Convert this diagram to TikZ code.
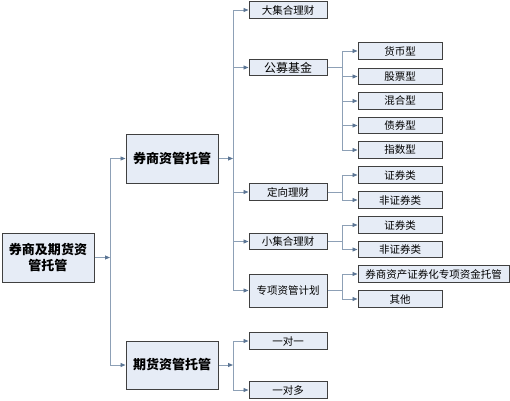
\documentclass[tikz,border=0pt]{standalone}
\usepackage{fontspec}
\setmainfont{Noto Sans CJK SC}
\usetikzlibrary{arrows.meta}
\definecolor{boxfill}{HTML}{E6ECF6}
\definecolor{boxline}{HTML}{404040}
\definecolor{conncol}{HTML}{8DA0B6}
\definecolor{tipcol}{HTML}{5B7594}
\tikzset{
  box/.style={draw=boxline, fill=boxfill, line width=1pt, inner sep=0pt, align=center},
  bigbox/.style={box, minimum width=92pt, minimum height=49pt, font=\fontsize{13}{16}\selectfont\bfseries},
  midbox/.style={box, minimum width=78pt, minimum height=16.5pt, font=\fontsize{10.5}{12}\selectfont},
  leafbox/.style={box, minimum width=84pt, minimum height=16.5pt, font=\fontsize{10.5}{12}\selectfont},
  conn/.style={draw=conncol, line width=0.9pt},
  arr/.style={conn, -{Triangle[length=5pt,width=4pt,color=tipcol]}},
}
\begin{document}
\begin{tikzpicture}[x=1pt,y=-1pt]
\useasboundingbox (0,0) rectangle (510,400);
% level 0 and 1
\node[bigbox] (root) at (48,257.5) {券商及期货资\\管托管};
\node[bigbox] (qs) at (172,158.5) {券商资管托管};
\node[bigbox, minimum height=48pt] (qh) at (172,365) {期货资管托管};
% level 2
\node[midbox] (djh) at (288,10) {大集合理财};
\node[midbox, font=\fontsize{12}{14}\selectfont] (gm) at (288,67.5) {公募基金};
\node[midbox] (dx) at (288,192) {定向理财};
\node[midbox] (xjh) at (288,241.5) {小集合理财};
\node[midbox, minimum height=33pt] (zx) at (288,290.5) {专项资管计划};
\node[midbox] (ydy) at (288,341) {一对一};
\node[midbox] (ydd) at (288,390) {一对多};
% level 3
\node[leafbox] (hb) at (400,51) {货币型};
\node[leafbox] (gp) at (400,76.5) {股票型};
\node[leafbox] (hh) at (400,101) {混合型};
\node[leafbox] (zq) at (400,125.5) {债券型};
\node[leafbox] (zs) at (400,150) {指数型};
\node[leafbox] (dxz) at (400,175) {证券类};
\node[leafbox] (dxf) at (400,200) {非证券类};
\node[leafbox] (xjz) at (400,225) {证券类};
\node[leafbox] (xjf) at (400,249.5) {非证券类};
\node[leafbox, minimum width=151pt] (zxt) at (433.5,274) {券商资产证券化专项资金托管};
\node[leafbox] (qt) at (400,299) {其他};
% junctions
\coordinate (j0) at (110,257.5);
\coordinate (j1) at (233,158.5);
\coordinate (j2) at (233,365);
\coordinate (j3) at (342,67.5);
\coordinate (j4) at (342,192);
\coordinate (j5) at (342,241.5);
\coordinate (j6) at (342,290.5);
% connectors
\draw[arr] (root.east) -- (j0);
\draw[arr] (j0) |- (qs.west);
\draw[arr] (j0) |- (qh.west);
\draw[arr] (qs.east) -- (j1);
\foreach \n in {djh,gm,dx,xjh,zx} \draw[arr] (j1) |- (\n.west);
\draw[arr] (qh.east) -- (j2);
\foreach \n in {ydy,ydd} \draw[arr] (j2) |- (\n.west);
\draw[conn] (gm.east) -- (j3);
\foreach \n in {hb,gp,hh,zq,zs} \draw[arr] (j3) |- (\n.west);
\draw[conn] (dx.east) -- (j4);
\foreach \n in {dxz,dxf} \draw[arr] (j4) |- (\n.west);
\draw[conn] (xjh.east) -- (j5);
\foreach \n in {xjz,xjf} \draw[arr] (j5) |- (\n.west);
\draw[conn] (zx.east) -- (j6);
\foreach \n in {zxt,qt} \draw[arr] (j6) |- (\n.west);
\end{tikzpicture}
\end{document}
